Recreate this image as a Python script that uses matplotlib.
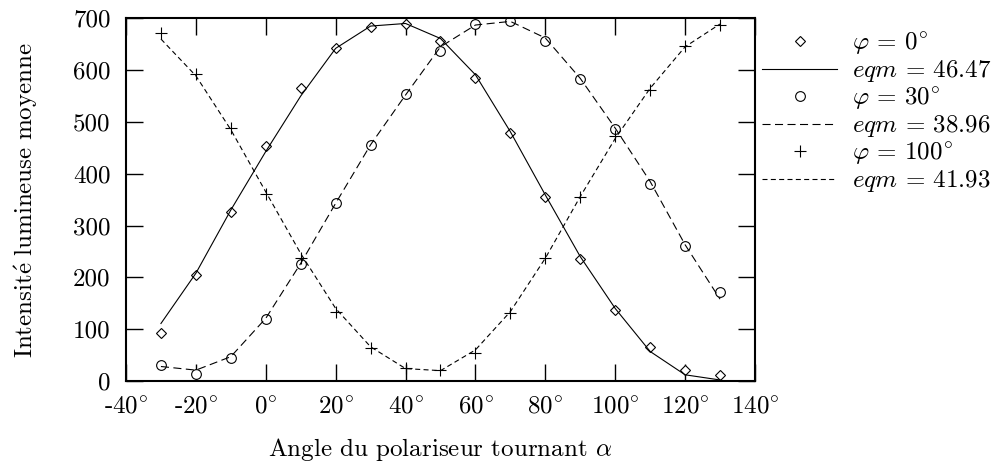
import matplotlib
matplotlib.use("Agg")
import matplotlib.pyplot as plt

# Angles du polariseur tournant (degrés)
angles = [-30, -20, -10, 0, 10, 20, 30, 40, 50, 60, 70, 80, 90, 100, 110, 120, 130]

# Mesures pour chaque orientation du polariseur fixe
mes_phi0 = [92, 205, 327, 454, 565, 643, 684, 689, 657, 584, 478, 356, 236, 137, 66, 21, 12]
mes_phi30 = [30, 13, 44, 120, 225, 343, 456, 553, 637, 689, 695, 657, 582, 486, 381, 261, 171]
mes_phi100 = [672, 593, 488, 360, 238, 134, 63, 26, 21, 55, 131, 237, 356, 472, 562, 647, 687]

# Courbes ajustées, évaluées aux mêmes angles
fit_phi0 = [111, 208, 330, 443, 550, 642, 685, 690, 661, 591, 481, 359, 240, 140, 57, 12, 2]
fit_phi30 = [28, 21, 47, 121, 227, 343, 456, 552, 645, 687, 694, 662, 584, 488, 385, 263, 158]
fit_phi100 = [660, 589, 485, 365, 246, 140, 66, 24, 20, 60, 134, 237, 356, 468, 565, 645, 689]

phi_values = [0, 30, 100]
eqm_values = [46.47, 38.96, 41.93]

xticks = [-40, -20, 0, 20, 40, 60, 80, 100, 120, 140]
yticks = [0, 100, 200, 300, 400, 500, 600, 700]

plt.rcParams.update({
    "font.family": "serif",
    "font.serif": ["cmr10"],
    "mathtext.fontset": "cm",
    "axes.formatter.use_mathtext": True,
    "font.size": 18,
    "lines.scale_dashes": False,
})

fig = plt.figure(figsize=(10.08, 4.69), dpi=100)
ax = fig.add_axes([0.125, 0.1876, 0.624, 0.7734])

mk = dict(linestyle="none", markerfacecolor="white", markeredgecolor="black",
          markeredgewidth=0.8)

h0 = ax.plot(angles, mes_phi0, marker="D", markersize=5.5, **mk)[0]
l0 = ax.plot(angles, fit_phi0, color="black", linewidth=0.8, linestyle="-")[0]
h1 = ax.plot(angles, mes_phi30, marker="o", markersize=7, **mk)[0]
l1 = ax.plot(angles, fit_phi30, color="black", linewidth=0.8,
             linestyle=(0, (5.8, 3.2)))[0]
h2 = ax.plot(angles, mes_phi100, marker="+", markersize=8, **mk)[0]
l2 = ax.plot(angles, fit_phi100, color="black", linewidth=0.8,
             linestyle=(0, (3.6, 2.4)))[0]

ax.set_xlim(-40, 140)
ax.set_ylim(0, 700)
ax.set_xticks(xticks)
ax.set_xticklabels([r"$\text{%d}^{\circ}$" % t for t in xticks])
ax.set_yticks(yticks)
ax.set_yticklabels([str(t) for t in yticks])
ax.tick_params(direction="in", length=12, width=1.0, top=True, right=True, pad=11)
for s in ax.spines.values():
    s.set_linewidth(1.5)

ax.set_xlabel(r"Angle du polariseur tournant $\alpha$", labelpad=13)
ax.set_ylabel(r"$\mathrm{Intensit\acute{e}\ lumineuse\ moyenne}$", labelpad=24)

# le signe "=" est écrit en mode texte pour garder les espaces
handles = [h0, l0, h1, l1, h2, l2]
labels = []
for p, e in zip(phi_values, eqm_values):
    labels += [r"$\varphi$ = $%d^{\circ}$" % p, r"$eqm$ = %.2f" % e]

fig.legend(handles, labels, loc="upper left", bbox_to_anchor=(0.756, 0.935),
           frameon=False, handlelength=3.0, handletextpad=0.6, labelspacing=0.05,
           borderpad=0, borderaxespad=0, markerscale=1.0, fontsize=18)

fig.savefig("out.png", dpi=100)
